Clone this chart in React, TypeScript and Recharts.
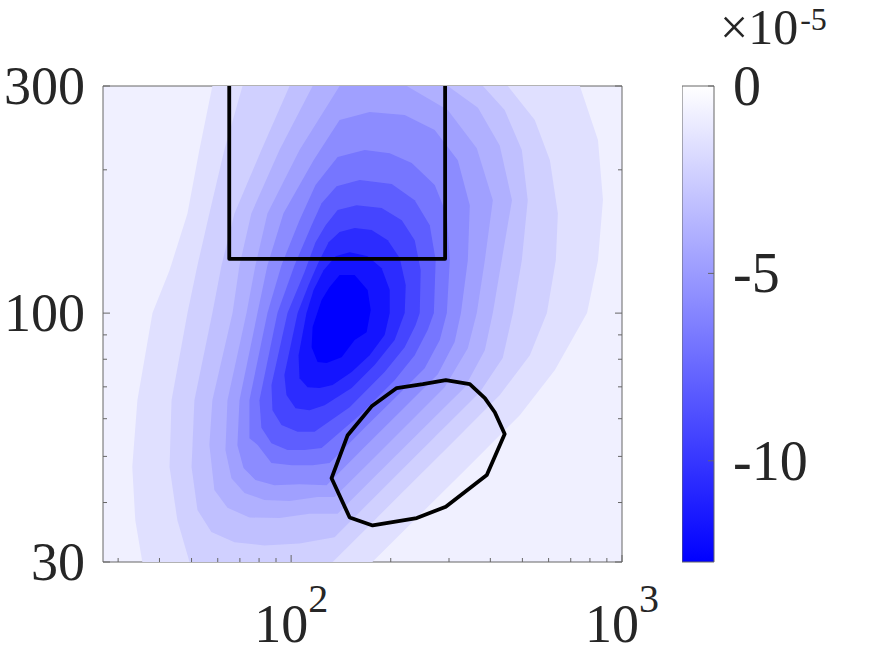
import { ScatterChart, Scatter, XAxis, YAxis, CartesianGrid, BarChart, Bar } from 'recharts'

const FONT = '"Liberation Serif", "DejaVu Serif", serif'
const INK = '#262626'
const FRAME = '#666666'

// filled contour outlines [x, y], outermost level first
const level1 = [[58.6, 357], [57.8, 300], [52.8, 220], [48.6, 162], [42.9, 123], [38.1, 100], [34.3, 65.6], [33.1, 47.5], [33.8, 36.7], [35.5, 30], [37.3, 24.9], [140, 24.9], [176, 30], [245, 37.7], [347, 47.9], [491, 61], [627, 75.9], [784, 100], [846, 129], [876, 173], [846, 231], [746, 300], [721, 357]]
const level2 = [[72.3, 357], [71.3, 300], [62.8, 220], [56.6, 162], [52.1, 126], [48.6, 100], [43.5, 65.6], [42.9, 47.5], [45.3, 36.7], [49.3, 30], [51, 24.9], [106, 24.9], [133.5, 30], [166.8, 35], [212.9, 41.5], [301.7, 52.8], [427.4, 67.3], [526.7, 81.6], [593, 100], [631, 129.2], [640, 162], [605.5, 209.6], [545, 254.4], [452, 300], [442, 357]]
const level3 = [[100, 357], [98.9, 300], [81.3, 220], [67.4, 162], [61.6, 126], [57.8, 100], [51, 65.6], [50, 47.5], [52.1, 38.6], [57.4, 34.7], [67.4, 33], [83, 32.5], [106, 32.8], [135.3, 33.8], [185.2, 42.1], [262.4, 53.6], [371.7, 68.2], [436, 80.5], [468, 100], [498, 129.2], [519, 172.7], [498, 220], [442, 267], [380, 300], [371.7, 357]]
const level4 = [[117.7, 357], [116.1, 300], [92.2, 220], [75.8, 162], [69.8, 126], [66.5, 100], [57.8, 65.6], [56.6, 52.9], [58.6, 42.5], [64.2, 39], [74.8, 37.2], [92.2, 37.1], [113.7, 37.9], [138.2, 37.9], [185.2, 46.4], [253, 57.6], [335, 69.9], [385, 83.6], [407, 100], [433, 129.2], [465, 172.7], [427, 225], [367, 270], [297.5, 300], [293, 357]]
const level5 = [[142, 357], [140.1, 300], [106, 220], [84.8, 162], [78, 126], [73.3, 100], [64.2, 65.6], [63.3, 51.6], [66, 45], [72.3, 41.9], [83, 40.5], [98.9, 40.3], [120.2, 41.1], [135.3, 41.1], [172.7, 48.6], [228.3, 59], [291, 69.9], [342, 84.4], [364, 100], [385, 129.2], [407, 172.7], [364, 222], [297.5, 267], [223.6, 300], [219, 357]]
const level6 = [[172.7, 264.4], [140.1, 254.4], [116.9, 209.6], [94.8, 162.2], [84.8, 126], [79.1, 100], [69.8, 65.6], [68.8, 52.8], [71.8, 47.3], [78, 44.6], [89, 43.5], [106, 43.7], [128, 43.5], [163.3, 51.6], [220.4, 63.4], [277.5, 74.4], [312, 87], [326, 100], [342, 129.2], [346.7, 168.6], [319, 209.6], [271.6, 242.4], [220.4, 260.6]]
const level7 = [[166.8, 220], [138.2, 212.7], [118.5, 185.8], [106, 156.8], [93.5, 126.1], [84.8, 100], [74.8, 65.6], [74.8, 54.6], [79.1, 52.9], [87.2, 48.4], [100.3, 47.9], [116.1, 47.9], [130.7, 48.4], [166.8, 57.4], [212.9, 67.9], [253.3, 76.6], [281.4, 87.8], [295.5, 100], [301.7, 129.2], [295.5, 160.7], [271.6, 185.8], [231.5, 206.6], [198.6, 216.8]]
const level8 = [[161.1, 190.3], [137.2, 184.8], [123.6, 170.2], [115.3, 153], [102.4, 126.1], [90.9, 100], [80.2, 65.6], [81.3, 57.4], [87.2, 53.3], [97.5, 51.6], [109.7, 51.6], [123.6, 52.1], [161.1, 61], [205.5, 72.3], [236.3, 81.6], [258.7, 92.1], [270, 100], [273.4, 129.2], [262.4, 153], [236.3, 172.7], [201.4, 186.7]]
const level9 = [[157.7, 168.6], [138.2, 164.6], [127.1, 153], [118.5, 140.9], [109.7, 121.9], [97.5, 100], [87.2, 70.6], [87.8, 62.5], [93.5, 58.2], [104.6, 56.3], [117.7, 56.3], [150.3, 63.4], [191.7, 75.2], [220.4, 84.8], [237.9, 94.4], [244.7, 100], [246.4, 123.1], [236.3, 142.3], [216, 156.8], [187.8, 166.2]]
const level10 = [[155.6, 150.9], [140.1, 148], [129.8, 140.9], [121.1, 128], [112.9, 114.5], [104.6, 100], [95.4, 74.1], [96.8, 67.3], [103.1, 63.1], [113.7, 62.5], [126.2, 64], [152.4, 69.6], [178.8, 77.8], [205.5, 87.8], [220.4, 100], [222, 114.5], [212.9, 130.5], [195.9, 142.3], [175.1, 149.4]]
const level11 = [[150.3, 134.3], [136.3, 131.7], [125.3, 123.1], [116.9, 111.8], [111.3, 100], [105.3, 81.6], [106, 73], [112.1, 69.9], [121.9, 69.6], [133.5, 70.6], [152.4, 75.2], [172.7, 81.6], [191.7, 89.9], [198.6, 100], [198.6, 111.8], [187.8, 124.3], [170.3, 131.7]]
const level12 = [[140.1, 120.2], [155.6, 120.2], [170.3, 111.8], [174, 101.5], [169.1, 91.2], [155.6, 87.8], [142.1, 80.8], [128, 78.6], [120.2, 78.9], [115.3, 84.8], [116.1, 93.5], [123.6, 106.5], [130.7, 113.4]]

const levels = [level1, level2, level3, level4, level5, level6, level7, level8, level9, level10, level11, level12]
const levelColors = ['#E0E0FF', '#D0D0FF', '#C0C0FF', '#B0B0FF', '#A0A0FF', '#8C8CFF', '#7676FF', '#5E5EFF', '#4545FF', '#2C2CFF', '#1414FF', '#0000FF']
const outsideColor = '#F0F0FF'

// black outlines drawn over the contours
const boxOutline = [[65, 400], [65, 130], [292, 130], [292, 400]]
const regionOutline = [[132.5, 45], [148.2, 55.4], [175.1, 63.7], [208.5, 69.6], [250, 70.9], [293.4, 72.3], [346.7, 70.9], [385, 66.3], [412.6, 61.9], [442, 55.7], [390.3, 45.7], [293.4, 39.2], [239.7, 37.1], [176.3, 35.8], [150.3, 37.2]]

const xTicks = [30, 40, 50, 60, 70, 80, 90, 100, 200, 300, 400, 500, 600, 700, 800, 900, 1000]
const xLabelled = [100, 1000]
const yTicks = [30, 40, 50, 60, 70, 80, 90, 100, 200, 300]
const yLabelled = [30, 100, 300]

const colorMin = -12.7
const colorTicks = [-10, -5, 0]
const colorBar = [{ name: 'cb', v: colorMin }]

const toPoints = (arr: number[][]) => arr.map(([x, y]) => ({ x, y }))

const pathOf = (pts: { x: number; y: number }[], closed: boolean) =>
  pts.map((p, i) => `${i ? 'L' : 'M'}${p.x},${p.y}`).join(' ') + (closed ? ' Z' : '')

const noMarker = () => <g />

const fillShape = (color: string) => (props: any) => (
  <path d={pathOf(props.points || [], true)} fill={color} stroke="none" />
)

const outlineShape = (closed: boolean) => (props: any) => (
  <path d={pathOf(props.points || [], closed)} fill="none" stroke="#000" strokeWidth={3.8} strokeLinejoin="round" />
)

function BottomTick({ x, y, payload }: any) {
  const v = payload.value
  const major = xLabelled.includes(v)
  return (
    <g>
      <line x1={x} x2={x} y1={y} y2={y - (major ? 7 : 4)} stroke={FRAME} />
      {major && (
        <text x={x} y={y + 80} textAnchor="middle" fontFamily={FONT} fontSize={54} fill={INK}>
          10<tspan dy={-30} fontSize={40}>{Math.round(Math.log10(v))}</tspan>
        </text>
      )}
    </g>
  )
}

function TopTick({ x, y, payload }: any) {
  const major = xLabelled.includes(payload.value)
  return <line x1={x} x2={x} y1={y} y2={y + (major ? 7 : 4)} stroke={FRAME} />
}

function LeftTick({ x, y, payload }: any) {
  const v = payload.value
  const major = yLabelled.includes(v)
  return (
    <g>
      <line x1={x} x2={x + (major ? 7 : 4)} y1={y} y2={y} stroke={FRAME} />
      {major && (
        <text x={x - 18} y={y + 18} textAnchor="end" fontFamily={FONT} fontSize={54} fill={INK}>
          {v}
        </text>
      )}
    </g>
  )
}

function RightTick({ x, y, payload }: any) {
  const major = yLabelled.includes(payload.value)
  return <line x1={x} x2={x - (major ? 7 : 4)} y1={y} y2={y} stroke={FRAME} />
}

function ColorTick({ x, y, payload }: any) {
  return (
    <g>
      <line x1={x - 6} x2={x} y1={y} y2={y} stroke={FRAME} />
      <text x={x + 19} y={y + 19} fontFamily={FONT} fontSize={56} fill={INK}>
        {payload.value}
      </text>
    </g>
  )
}

export default function App() {
  return (
    <div style={{ position: 'absolute', left: 0, top: 0, width: 875, height: 657, background: '#fff' }}>
      <div style={{ position: 'absolute', left: 0, top: 0 }}>
        <ScatterChart width={875} height={657} margin={{ top: 85, right: 252, bottom: 0, left: 0 }}>
          <CartesianGrid xAxisId="b" yAxisId="l" horizontal={false} vertical={false} fill={outsideColor} fillOpacity={1} />
          {levels.map((lv, i) => (
            <Scatter
              key={i}
              xAxisId="b"
              yAxisId="l"
              data={toPoints(lv)}
              shape={noMarker}
              line={fillShape(levelColors[i])}
              lineType="joint"
              isAnimationActive={false}
            />
          ))}
          <Scatter xAxisId="b" yAxisId="l" data={toPoints(boxOutline)} shape={noMarker} line={outlineShape(false)} lineType="joint" isAnimationActive={false} />
          <Scatter xAxisId="b" yAxisId="l" data={toPoints(regionOutline)} shape={noMarker} line={outlineShape(true)} lineType="joint" isAnimationActive={false} />
          <XAxis
            xAxisId="b"
            dataKey="x"
            type="number"
            scale="log"
            domain={[27, 1000]}
            allowDataOverflow
            ticks={xTicks}
            interval={0}
            tick={<BottomTick />}
            tickLine={false}
            tickSize={0}
            tickMargin={0}
            axisLine={{ stroke: FRAME }}
            height={95}
          />
          <XAxis
            xAxisId="t"
            orientation="top"
            type="number"
            scale="log"
            domain={[27, 1000]}
            allowDataOverflow
            ticks={xTicks}
            interval={0}
            tick={<TopTick />}
            tickLine={false}
            tickSize={0}
            tickMargin={0}
            axisLine={{ stroke: FRAME }}
            height={1}
          />
          <YAxis
            yAxisId="l"
            dataKey="y"
            type="number"
            scale="log"
            domain={[30, 300]}
            allowDataOverflow
            ticks={yTicks}
            interval={0}
            tick={<LeftTick />}
            tickLine={false}
            tickSize={0}
            tickMargin={0}
            axisLine={{ stroke: FRAME }}
            width={103}
          />
          <YAxis
            yAxisId="r"
            orientation="right"
            type="number"
            scale="log"
            domain={[30, 300]}
            allowDataOverflow
            ticks={yTicks}
            interval={0}
            tick={<RightTick />}
            tickLine={false}
            tickSize={0}
            tickMargin={0}
            axisLine={{ stroke: FRAME }}
            width={1}
          />
        </ScatterChart>
      </div>
      <div style={{ position: 'absolute', left: 682, top: 0 }}>
        <BarChart width={193} height={657} data={colorBar} margin={{ top: 86, right: 0, bottom: 95, left: 0 }} barCategoryGap={0}>
          <defs>
            <linearGradient id="cbGrad" x1="0" y1="0" x2="0" y2="1">
              <stop offset="0%" stopColor="#FFFFFF" />
              <stop offset="100%" stopColor="#0000FF" />
            </linearGradient>
          </defs>
          <XAxis dataKey="name" hide />
          <YAxis
            orientation="right"
            type="number"
            domain={[colorMin, 0]}
            ticks={colorTicks}
            interval={0}
            tick={<ColorTick />}
            tickLine={false}
            tickSize={0}
            tickMargin={0}
            axisLine={false}
            width={161}
          />
          <Bar dataKey="v" fill="url(#cbGrad)" stroke={FRAME} strokeWidth={1} isAnimationActive={false} />
        </BarChart>
      </div>
      <svg width={875} height={657} style={{ position: 'absolute', left: 0, top: 0, pointerEvents: 'none' }}>
        <text x={720} y={44} fontFamily={FONT} fontSize={50} fill={INK}>
          ×10<tspan dx={2} dy={-14} fontSize={32}>-5</tspan>
        </text>
      </svg>
    </div>
  )
}
